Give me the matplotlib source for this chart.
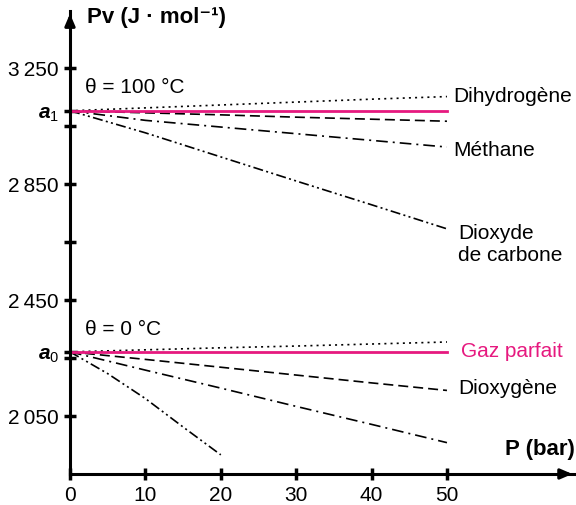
import numpy as np
import matplotlib.pyplot as plt

plt.rcParams['font.family'] = ['Liberation Sans', 'DejaVu Sans']
plt.rcParams['mathtext.fontset'] = 'custom'
plt.rcParams['mathtext.it'] = 'Liberation Sans:italic:bold'
plt.rcParams['mathtext.bf'] = 'Liberation Sans:bold'
plt.rcParams['mathtext.rm'] = 'Liberation Sans'

# valeurs
a0 = 2271
a1 = 3102
P = [0, 10, 20, 30, 40, 50]
P_co2_0 = [0, 5, 10, 15, 20]

# theta = 100 °C
h2_100 = [3102, 3112, 3122, 3132, 3142, 3151]
o2_100 = [3102, 3095, 3088, 3080, 3073, 3066]
ch4_100 = [3102, 3069, 3046, 3023, 3000, 2977]
co2_100 = [3102, 3026, 2943, 2860, 2778, 2695]

# theta = 0 °C
h2_0 = [2271, 2278, 2285, 2291, 2298, 2305]
o2_0 = [2271, 2245, 2218, 2191, 2164, 2138]
ch4_0 = [2271, 2208, 2146, 2083, 2021, 1958]
co2_0 = [2271, 2196, 2110, 2012, 1916]

yticks_lab = [2050, 2450, 2850, 3250]
yticks_min = [2250, 2650, 3050]
xticks = [0, 10, 20, 30, 40, 50]

pink = '#e6197f'
fs = 15

fig = plt.figure(figsize=(5.76, 5.06), dpi=100)
ax = fig.add_axes([0.1215, 0.0613, 0.877, 0.915])

st_h2 = (0, (1.2, 2.5))
st_o2 = (0, (6, 3))
st_ch4 = (0, (7, 3, 1.2, 3))
st_co2 = (0, (6, 2, 1.2, 2, 1.2, 2))

for yy, st in [(h2_100, st_h2), (o2_100, st_o2), (ch4_100, st_ch4), (co2_100, st_co2),
               (h2_0, st_h2), (o2_0, st_o2), (ch4_0, st_ch4)]:
    ax.plot(P, yy, color='black', lw=1.2, linestyle=st, clip_on=False)
ax.plot(P_co2_0, co2_0, color='black', lw=1.2, linestyle=st_co2, clip_on=False)

ax.plot([P[0], P[-1]], [a1, a1], color=pink, lw=2)
ax.plot([P[0], P[-1]], [a0, a0], color=pink, lw=2)

ax.set_xlim(0, 67)
ax.set_ylim(1850, 3446)

for s in ['top', 'right']:
    ax.spines[s].set_visible(False)
for s in ['left', 'bottom']:
    ax.spines[s].set_linewidth(2.2)

yt = sorted(yticks_lab + [a0, a1])
ylabels = []
for v in yt:
    if v == a0:
        ylabels.append(r'$\mathit{a}_{\mathrm{0}}$')
    elif v == a1:
        ylabels.append(r'$\mathit{a}_{\mathrm{1}}$')
    else:
        ylabels.append('%d\u2009%03d' % (v // 1000, v % 1000))
ax.set_yticks(yt)
ax.set_yticklabels(ylabels, fontsize=fs)
ax.set_yticks(yticks_min, minor=True)
ax.set_xticks(xticks)
ax.set_xticklabels([str(x) for x in xticks], fontsize=fs)
ax.tick_params(axis='both', which='both', direction='inout', length=8, width=2.5, pad=4)

# fleches des axes
ax.annotate('', xy=(1.0, 0), xycoords='axes fraction', xytext=(0.97, 0),
            arrowprops=dict(arrowstyle='-|>,head_length=0.7,head_width=0.3', lw=2.2, color='black'))
ax.annotate('', xy=(0, 1.0), xycoords='axes fraction', xytext=(0, 0.97),
            arrowprops=dict(arrowstyle='-|>,head_length=0.7,head_width=0.3', lw=2.2, color='black'))

ax.text(0.033, 0.988, 'Pv (J · mol\u207b\u00b9)', transform=ax.transAxes, fontsize=16,
        fontweight='bold', va='center', ha='left')
ax.text(1.0, 0.055, 'P (bar)', transform=ax.transAxes, fontsize=16,
        fontweight='bold', va='center', ha='right')

ax.text(2.0, 3184, 'θ = 100 °C', fontsize=fs, va='center', ha='left')
ax.text(2.0, 2350, 'θ = 0 °C', fontsize=fs, va='center', ha='left')
ax.text(50.9, 3153, 'Dihydrogène', fontsize=fs, va='center', ha='left')
ax.text(50.9, 2967, 'Méthane', fontsize=fs, va='center', ha='left')
ax.text(51.5, 2643, 'Dioxyde\nde carbone', fontsize=fs, va='center', ha='left', linespacing=1.2)
ax.text(51.8, 2274, 'Gaz parfait', fontsize=fs, va='center', ha='left', color=pink)
ax.text(51.5, 2147, 'Dioxygène', fontsize=fs, va='center', ha='left')

fig.savefig('out.png', dpi=100)
